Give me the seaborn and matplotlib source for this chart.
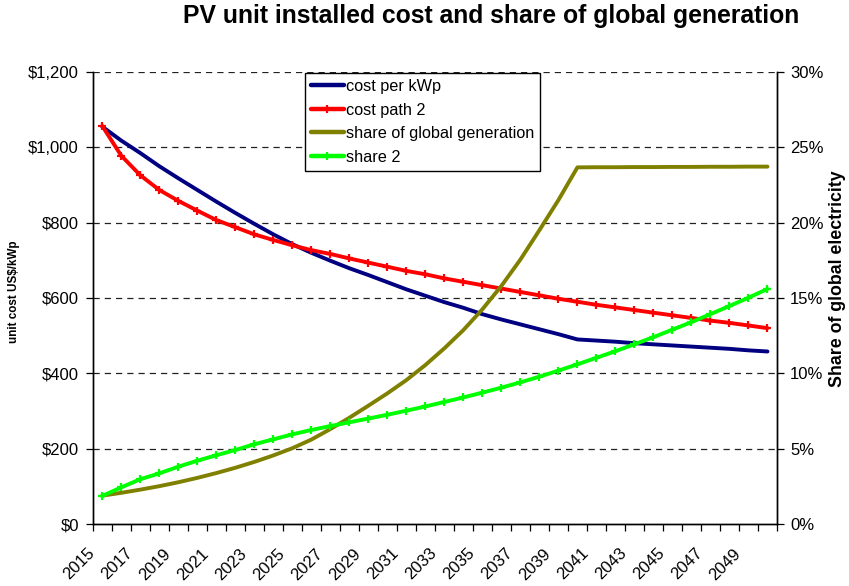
import numpy as np
import pandas as pd
import matplotlib
matplotlib.use("Agg")
import matplotlib.pyplot as plt
import matplotlib.transforms as mtransforms
import seaborn as sns

years = list(range(2015, 2051))

cost_per_kwp = [1055, 1018, 985, 950, 918, 887, 856, 826, 797, 769, 743, 720,
                699, 679, 661, 642, 623, 606, 589, 574, 557, 543, 530, 517,
                504, 490, 487, 484, 480, 477, 474, 471, 468, 465, 461, 458]

cost_path_2 = [1057, 978, 926, 887, 858, 832, 807, 788, 769, 754, 740, 727,
               717, 705, 694, 683, 672, 663, 652, 643, 634, 625, 616, 607,
               598, 590, 582, 575, 568, 561, 554, 547, 540, 534, 527, 520]

share_global = [1.88, 2.07, 2.28, 2.51, 2.77, 3.06, 3.38, 3.73, 4.12, 4.55,
                5.03, 5.60, 6.30, 7.05, 7.85, 8.67, 9.55, 10.55, 11.66, 12.87,
                14.25, 15.80, 17.55, 19.50, 21.50, 23.67, 23.68, 23.68, 23.69,
                23.69, 23.70, 23.70, 23.71, 23.71, 23.72, 23.72]

share_2 = [1.86, 2.43, 2.97, 3.36, 3.80, 4.20, 4.56, 4.91, 5.29, 5.62, 5.95,
           6.24, 6.50, 6.75, 7.00, 7.25, 7.52, 7.80, 8.10, 8.40, 8.72, 9.05,
           9.40, 9.78, 10.18, 10.60, 11.03, 11.47, 11.93, 12.40, 12.90, 13.40,
           13.93, 14.47, 15.02, 15.60]

cost_ticks = [0, 200, 400, 600, 800, 1000, 1200]
cost_tick_labels = ["$0", "$200", "$400", "$600", "$800", "$1,000", "$1,200"]
share_ticks = [0, 5, 10, 15, 20, 25, 30]
share_tick_labels = ["0%", "5%", "10%", "15%", "20%", "25%", "30%"]

title = "PV unit installed cost and share of global generation"
left_label = "unit cost US$/kWp"
right_label = "Share of global electricity"

sns.set_theme(style="white")
plt.rcParams["font.family"] = ["Liberation Sans", "DejaVu Sans"]
plt.rcParams.update({"text.color": "black", "axes.labelcolor": "black",
                     "xtick.color": "black", "ytick.color": "black"})

idx = np.arange(len(years))
df = pd.DataFrame({"idx": idx, "year": years, "cost": cost_per_kwp,
                   "cost2": cost_path_2, "share": share_global, "share2": share_2})

W, H = 849, 586
L, R, T, B = 92.7, 777.0, 72.0, 524.0
fig = plt.figure(figsize=(W / 100, H / 100), dpi=100)
ax = fig.add_axes([L / W, 1 - B / H, (R - L) / W, (B - T) / H])
ax2 = ax.twinx()

lw = 2.8
sns.lineplot(data=df, x="idx", y="cost", ax=ax, color="#000080", lw=lw,
             label="cost per kWp", zorder=3)
sns.lineplot(data=df, x="idx", y="cost2", ax=ax, color="#FF0000", lw=lw,
             marker="+", markersize=6, markeredgewidth=1.6, markeredgecolor="#FF0000",
             label="cost path 2", zorder=3)
sns.lineplot(data=df, x="idx", y="share", ax=ax2, color="#808000", lw=lw,
             label="share of global generation", zorder=3)
sns.lineplot(data=df, x="idx", y="share2", ax=ax2, color="#00FF00", lw=lw,
             marker="+", markersize=6, markeredgewidth=1.6, markeredgecolor="#00FF00",
             label="share 2", zorder=3)

for a in (ax, ax2):
    leg = a.get_legend()
    if leg is not None:
        leg.remove()

ax.set_xlim(-0.5, len(years) - 0.5)
ax.set_ylim(0, 1200)
ax2.set_ylim(0, 30)

# gridlines
for v in cost_ticks[1:]:
    ax.axhline(v, color="#222222", lw=0.9, ls=(0, (5, 4)), zorder=1)

# x ticks: marks between categories, labels every other year
ax.set_xticks(np.arange(-0.5, len(years), 1.0))
ax.set_xticklabels([])
ax.set_xticks(idx[::2], minor=True)
ax.set_xticklabels([str(y) for y in years[::2]], minor=True, rotation=45,
                   ha="right", va="center", rotation_mode="anchor", fontsize=12)
ax.tick_params(axis="x", which="major", direction="out", length=5, width=0.9,
               color="black", bottom=True)
ax.tick_params(axis="x", which="minor", length=0, pad=0, bottom=True)
shift = mtransforms.ScaledTranslation(-10 / 100, -27 / 100, fig.dpi_scale_trans)
for lab in ax.get_xticklabels(minor=True):
    lab.set_transform(lab.get_transform() + shift)

ax.set_yticks(cost_ticks)
ax.set_yticklabels(cost_tick_labels, fontsize=12)
ax.tick_params(axis="y", direction="out", length=5, width=0.9, color="black",
               left=True, pad=5)
ax2.set_yticks(share_ticks)
ax2.set_yticklabels(share_tick_labels, fontsize=12)
ax2.tick_params(axis="y", direction="out", length=5, width=0.9, color="black",
                right=True, pad=4.3)

ax.set_xlabel("")
ax.set_ylabel("")
ax2.set_ylabel("")

for a in (ax, ax2):
    for side in ("left", "right", "bottom"):
        a.spines[side].set_color("black")
        a.spines[side].set_linewidth(1.0)
    a.spines["top"].set_visible(False)
    a.grid(False)
ax.set_facecolor("white")

fig.text(491.5 / W, 1 - 16 / H, title, ha="center", va="center",
         fontsize=17.8, fontweight="bold", color="black")
fig.text(14 / W, 1 - 292 / H, left_label, ha="center", va="center",
         rotation=90, fontsize=8.4, fontweight="bold", color="black")
fig.text(838 / W, 1 - 279 / H, right_label, ha="center", va="center",
         rotation=90, fontsize=12.8, fontweight="bold", color="black")

h1, l1 = ax.get_legend_handles_labels()
h2, l2 = ax2.get_legend_handles_labels()
leg = ax2.legend(h1 + h2, l1 + l2, loc="upper left",
                 bbox_to_anchor=((305 - L) / (R - L), 1.0 - 1 / (B - T)),
                 frameon=True, fancybox=False, edgecolor="black", framealpha=1,
                 fontsize=11.7, handlelength=2.0, handletextpad=0.12,
                 labelspacing=0.52, borderpad=0.38, borderaxespad=0)
leg.get_frame().set_linewidth(1.0)
leg.set_zorder(10)
for line in leg.get_lines():
    line.set_linewidth(3.2)
for txt in leg.get_texts():
    txt.set_color("black")

fig.savefig("out.png", dpi=100, facecolor="white")
